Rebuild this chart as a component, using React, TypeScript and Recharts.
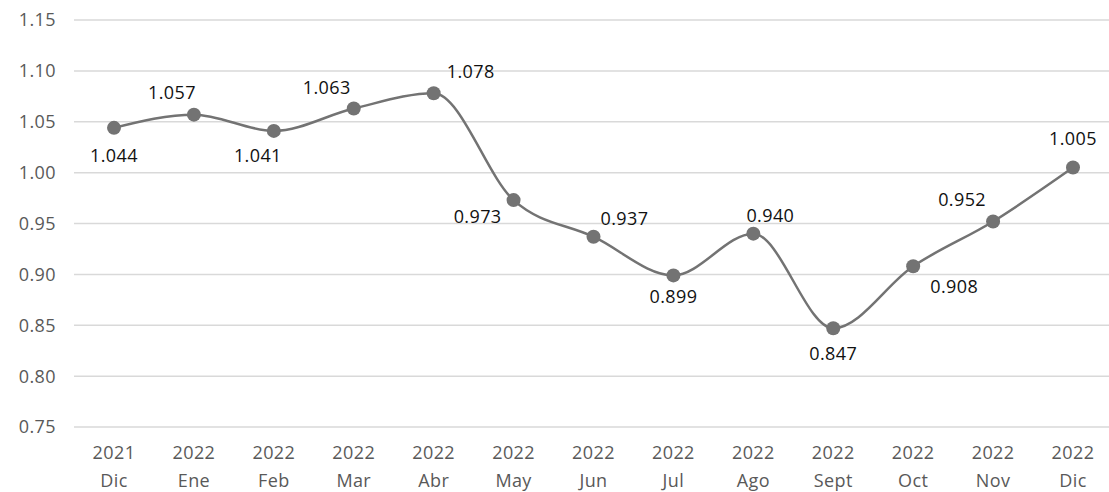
import * as React from 'react';
import { LineChart, Line, XAxis, YAxis, CartesianGrid, LabelList } from 'recharts';

const years = ['2021', '2022', '2022', '2022', '2022', '2022', '2022', '2022', '2022', '2022', '2022', '2022', '2022'];
const months = ['Dic', 'Ene', 'Feb', 'Mar', 'Abr', 'May', 'Jun', 'Jul', 'Ago', 'Sept', 'Oct', 'Nov', 'Dic'];
const values = [1.044, 1.057, 1.041, 1.063, 1.078, 0.973, 0.937, 0.899, 0.94, 0.847, 0.908, 0.952, 1.005];
const yTicks = [0.75, 0.8, 0.85, 0.9, 0.95, 1.0, 1.05, 1.1, 1.15];

// label offsets relative to each point (style only)
const labelOffsets: Array<[number, number]> = [
  [0, 27], [-22, -23], [-16, 24], [-27, -22], [37, -22], [-36, 16], [31, -19],
  [0, 21], [17, -19], [0, 25], [41, 20], [-31, -22], [0, -30],
];

const data = values.map((v, i) => ({ key: `${years[i]}-${months[i]}-${i}`, year: years[i], month: months[i], value: v }));

const FONT = '"Open Sans", "DejaVu Sans", sans-serif';

function XTick(props: any) {
  const { x, y, payload } = props;
  const i = payload.index;
  return (
    <g transform={`translate(${x},${y})`}>
      <text textAnchor="middle" fill="#595959" fontSize={18} fontFamily={FONT} letterSpacing={0.4}>
        <tspan x={0} dy={24}>{years[i]}</tspan>
        <tspan x={0} dy={28}>{months[i]}</tspan>
      </text>
    </g>
  );
}

function PointLabel(props: any) {
  const { x, y, value, index } = props;
  const [dx, dy] = labelOffsets[index] || [0, -20];
  return (
    <text x={x + dx} y={y + dy} textAnchor="middle" dominantBaseline="central" fill="#111111" fontSize={18} fontFamily={FONT} letterSpacing={0.4}>
      {Number(value).toFixed(3)}
    </text>
  );
}

export default function App() {
  return (
    <div style={{ position: 'absolute', left: 0, top: 0, width: 1109, height: 492, background: '#fff' }}>
      <LineChart width={1109} height={492} data={data} margin={{ top: 20, right: -4, left: 0, bottom: 0 }}>
        <CartesianGrid stroke="#d9d9d9" strokeWidth={1.5} vertical={false} />
        <XAxis
          dataKey="key"
          axisLine={false}
          tickLine={false}
          height={65}
          interval={0}
          padding={{ left: 40, right: 40 }}
          tick={<XTick />}
        />
        <YAxis
          domain={[0.75, 1.15]}
          ticks={yTicks}
          axisLine={false}
          tickLine={false}
          width={74}
          tickFormatter={(v: number) => v.toFixed(2)}
          tick={{ fill: '#595959', fontSize: 18, fontFamily: FONT, dx: -10, letterSpacing: 0.4 }}
        />
        <Line
          type="monotone"
          dataKey="value"
          stroke="#737373"
          strokeWidth={2.5}
          dot={{ r: 7, fill: '#737373', stroke: 'none' }}
          activeDot={false}
          isAnimationActive={false}
        >
          <LabelList dataKey="value" content={<PointLabel />} />
        </Line>
      </LineChart>
    </div>
  );
}
